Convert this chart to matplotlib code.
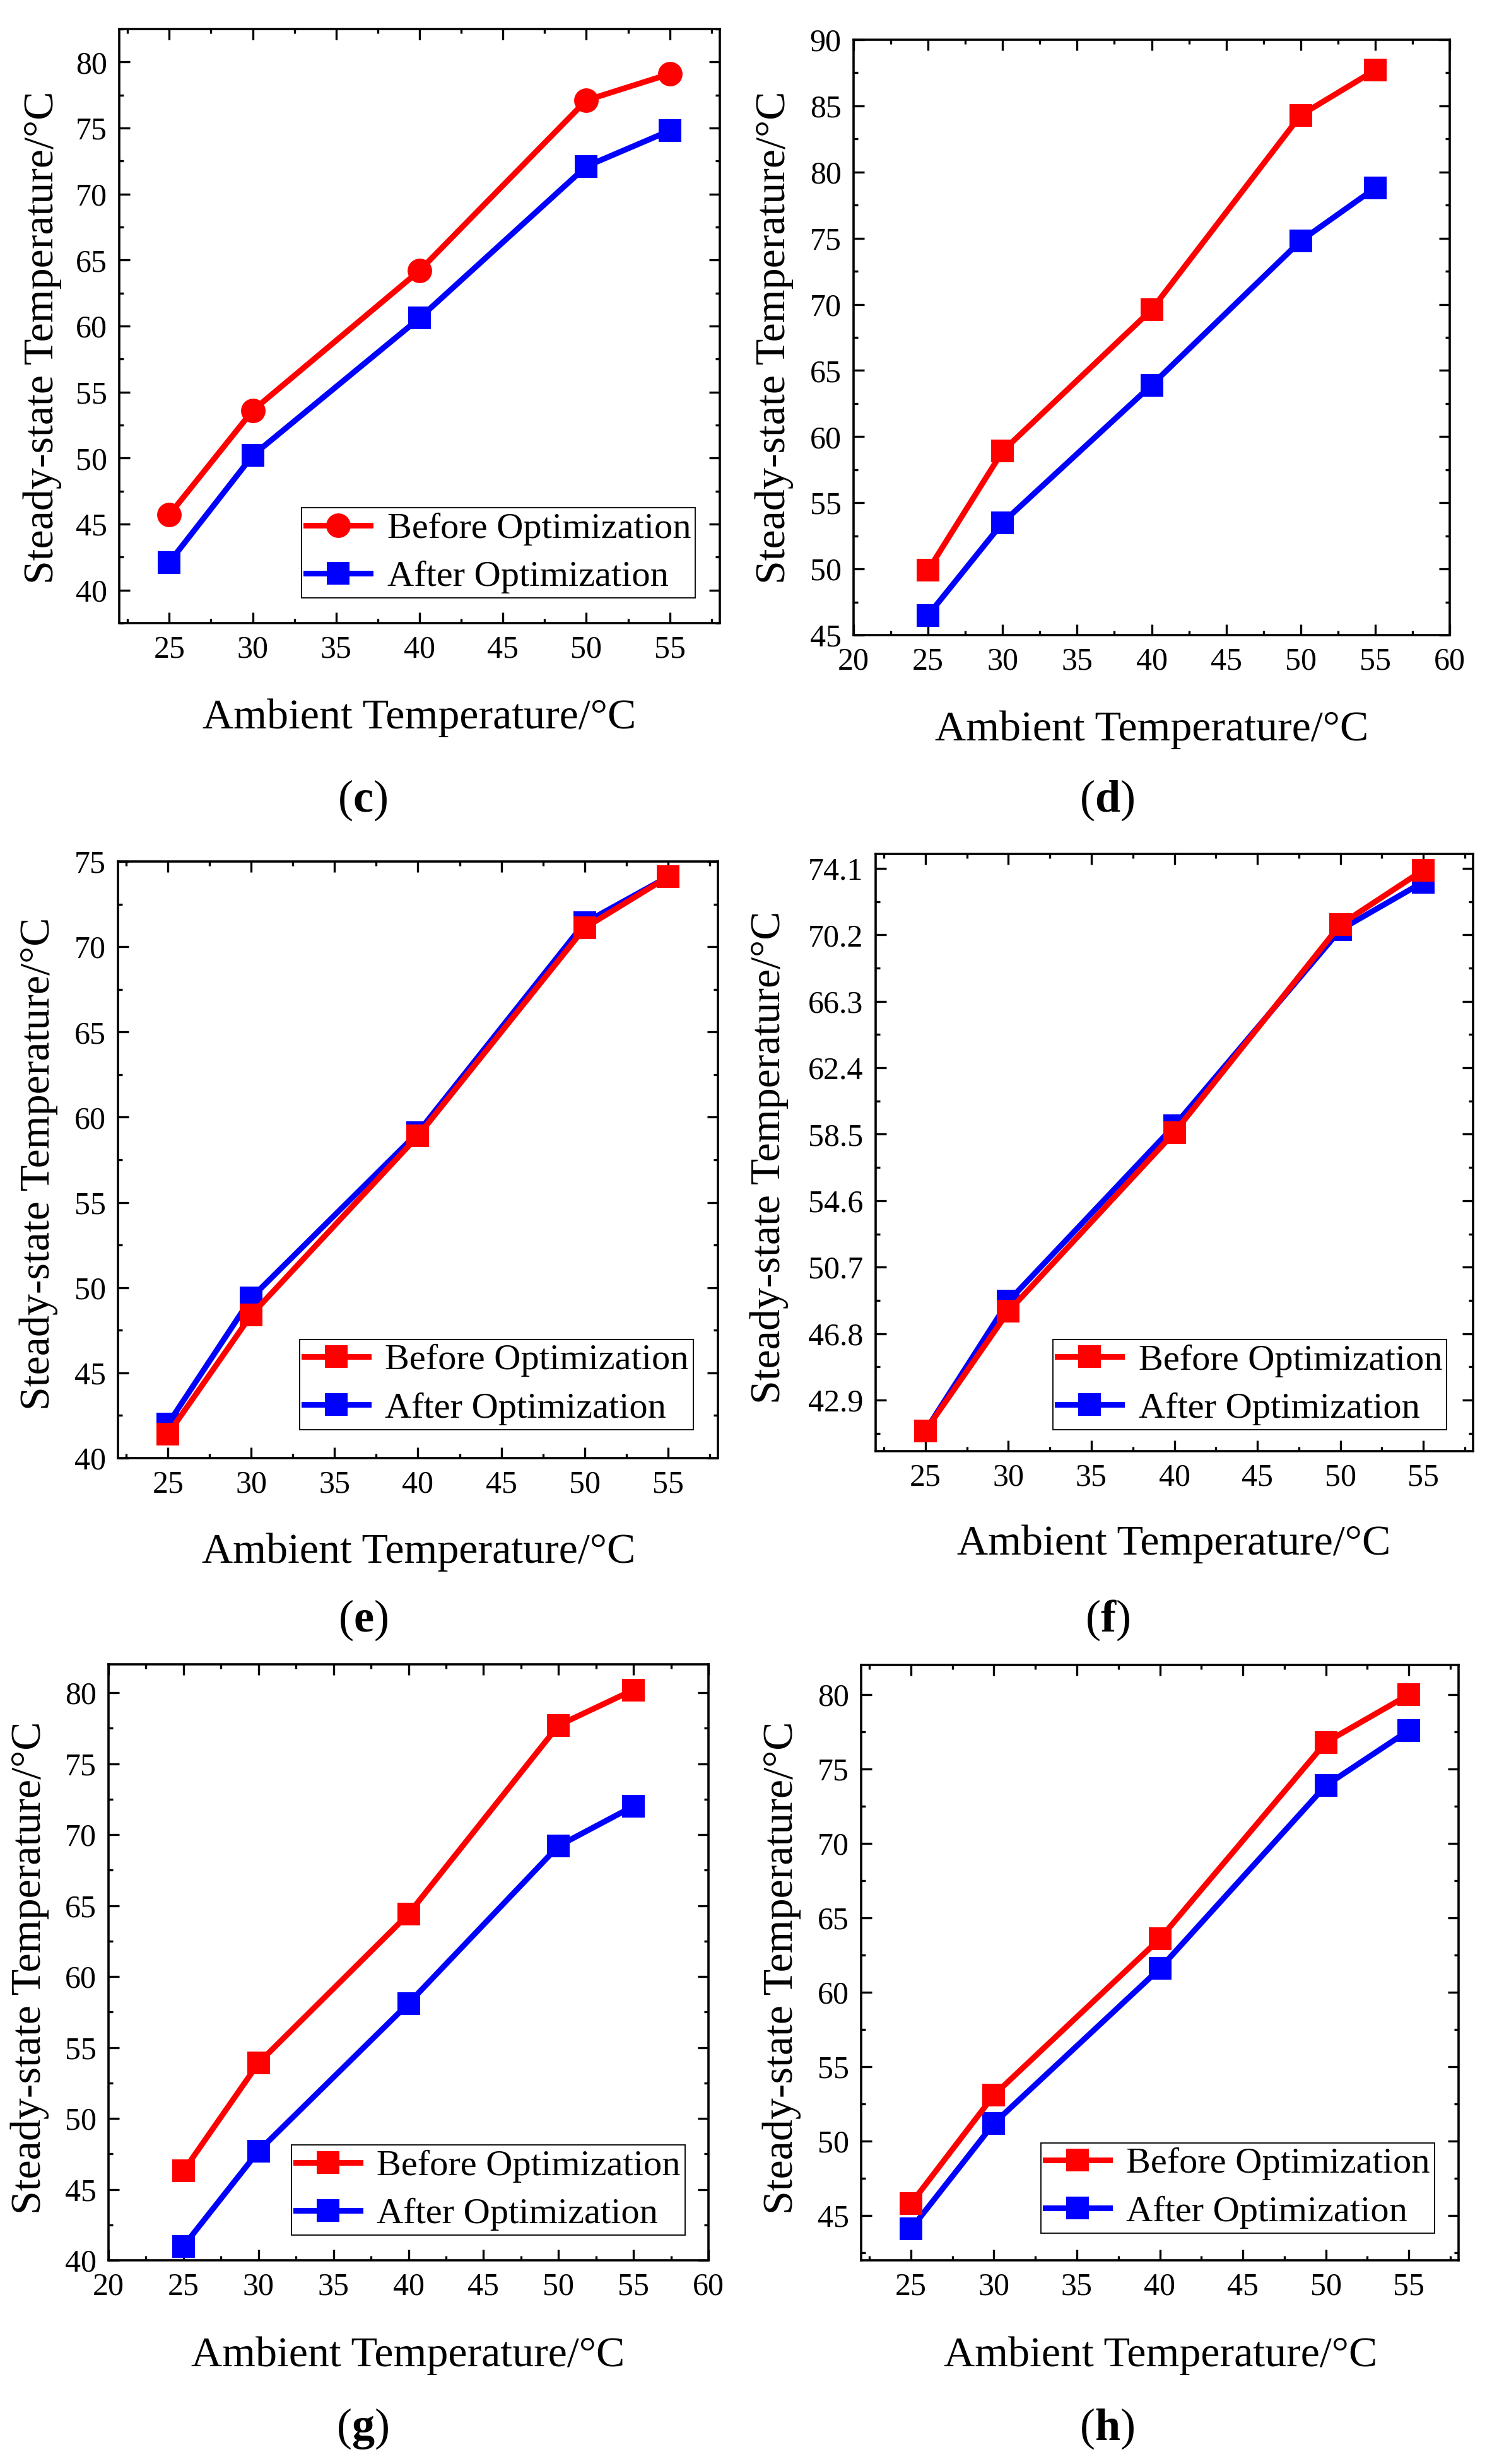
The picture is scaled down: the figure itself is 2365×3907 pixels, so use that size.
import matplotlib
matplotlib.use("Agg")
import matplotlib.pyplot as plt
from matplotlib.ticker import MultipleLocator, FixedLocator, FormatStrFormatter

plt.rcParams['font.family'] = ['Liberation Serif', 'DejaVu Serif']
plt.rcParams['mathtext.fontset'] = 'custom'
plt.rcParams['mathtext.rm'] = 'Liberation Serif'
plt.rcParams['mathtext.bf'] = 'Liberation Serif:bold'

# ---------------- data ----------------
ambient = [25, 30, 40, 50, 55]

c_before = [45.7, 53.6, 64.2, 77.1, 79.1]
c_after = [42.1, 50.2, 60.6, 72.1, 74.8]

d_before = [49.9, 58.9, 69.6, 84.3, 87.7]
d_after = [46.5, 53.5, 63.9, 74.8, 78.8]

e_before = [41.4, 48.4, 58.9, 71.1, 74.1]
e_after = [42.0, 49.4, 59.1, 71.4, 74.1]

f_before = [41.1, 48.1, 58.6, 70.8, 74.0]
f_after = [41.1, 48.7, 59.0, 70.5, 73.3]

g_before = [46.3, 53.9, 64.4, 77.7, 80.2]
g_after = [41.0, 47.7, 58.1, 69.2, 72.0]

h_before = [45.8, 53.1, 63.6, 76.8, 80.0]
h_after = [44.1, 51.2, 61.6, 73.9, 77.6]

f_yticks = [42.9, 46.8, 50.7, 54.6, 58.5, 62.4, 66.3, 70.2, 74.1]

xlabel_text = "Ambient Temperature/°C"
ylabel_text = "Steady-state Temperature/°C"
legend_labels = ["Before Optimization", "After Optimization"]

# ---------------- layout (pixels) ----------------
W, H = 2365, 3907
DPI = 100
fig = plt.figure(figsize=(W / DPI, H / DPI), dpi=DPI)

RED = '#FF0000'
BLUE = '#0000FF'

panels = [
    dict(name='c', before=c_before, after=c_after, bm='o', box=(189, 1141, 46, 988),
         xlim=(22, 58), xt=list(range(25, 60, 5)), ylim=(37.5, 82.5), yt=list(range(40, 85, 5)),
         ystep=2.5, leg=(0.304, 0.042), xl=(665, 1138), yl=(67, 535), pl=(575, 1269)),
    dict(name='d', before=d_before, after=d_after, bm='s', box=(1353, 2298, 63, 1007),
         xlim=(20, 60), xt=list(range(20, 65, 5)), ylim=(45, 90), yt=list(range(45, 95, 5)),
         ystep=2.5, leg=None, xl=(1826, 1157), yl=(1227, 535), pl=(1755, 1269)),
    dict(name='e', before=e_before, after=e_after, bm='s', box=(187, 1138, 1366, 2312),
         xlim=(22, 58), xt=list(range(25, 60, 5)), ylim=(40, 75), yt=list(range(40, 80, 5)),
         ystep=2.5, leg=(0.303, 0.048), xl=(664, 2461), yl=(61, 1845), pl=(576, 2569)),
    dict(name='f', before=f_before, after=f_after, bm='s', box=(1388, 2335, 1354, 2301),
         xlim=(22, 58), xt=list(range(25, 60, 5)), ylim=(39.9, 74.95), yt=f_yticks,
         ystep=1.95, leg=(0.297, 0.036), xl=(1861, 2448), yl=(1219, 1835), pl=(1755, 2569)),
    dict(name='g', before=g_before, after=g_after, bm='s', box=(172, 1123, 2639, 3584),
         xlim=(20, 60), xt=list(range(20, 65, 5)), ylim=(40, 82), yt=list(range(40, 85, 5)),
         ystep=2.5, leg=(0.305, 0.042), xl=(647, 3735), yl=(47, 3120), pl=(575, 3851)),
    dict(name='h', before=h_before, after=h_after, bm='s', box=(1365, 2312, 2640, 3584),
         xlim=(22, 58), xt=list(range(25, 60, 5)), ylim=(42, 82), yt=list(range(45, 85, 5)),
         ystep=2.5, leg=(0.301, 0.046), xl=(1840, 3735), yl=(1239, 3120), pl=(1755, 3851)),
]

TICK_FS = 36
LABEL_FS = 49
LEG_FS = 42
PANEL_FS = 52
LW = 6.5
MS = 26

for p in panels:
    l, r, t, b = p['box']
    ax = fig.add_axes([l / W, 1 - b / H, (r - l) / W, (b - t) / H])

    ms_b = MS + 2 if p['bm'] == 'o' else MS
    la, = ax.plot(ambient, p['after'], color=BLUE, lw=LW, marker='s', ms=MS,
                  markeredgewidth=0, zorder=3)
    lb, = ax.plot(ambient, p['before'], color=RED, lw=LW, marker=p['bm'], ms=ms_b,
                  markeredgewidth=0, zorder=4)

    ax.set_xlim(*p['xlim'])
    ax.set_ylim(*p['ylim'])
    ax.xaxis.set_major_locator(FixedLocator(p['xt']))
    ax.xaxis.set_minor_locator(MultipleLocator(2.5))
    ax.yaxis.set_major_locator(FixedLocator(p['yt']))
    if p['name'] == 'f':
        ax.yaxis.set_major_formatter(FormatStrFormatter('%.1f'))
        minors = [v + p['ystep'] for v in p['yt'][:-1]] + [p['yt'][0] - p['ystep'], p['yt'][-1] + p['ystep']]
        ax.yaxis.set_minor_locator(FixedLocator(minors))
    else:
        ax.yaxis.set_minor_locator(MultipleLocator(p['ystep']))

    ax.tick_params(which='both', direction='in', top=True, right=True, width=2.4,
                   labelsize=TICK_FS, colors='black')
    ax.tick_params(which='major', length=12)
    ax.tick_params(which='minor', length=5)
    ax.tick_params(axis='x', which='major', pad=14)
    ax.tick_params(axis='y', which='major', pad=14)
    for s in ax.spines.values():
        s.set_linewidth(2.6)

    def to_axes(px, py):
        return (px - l) / (r - l), (b - py) / (b - t)

    ax.set_xlabel(xlabel_text, fontsize=LABEL_FS)
    ax.xaxis.label.set_va('center')
    ax.xaxis.set_label_coords(*to_axes(*p['xl']))
    ax.set_ylabel(ylabel_text, fontsize=LABEL_FS)
    ax.yaxis.label.set_va('center')
    ax.yaxis.set_label_coords(*to_axes(*p['yl']))

    fig.text(p['pl'][0] / W, 1 - p['pl'][1] / H, r'($\mathbf{' + p['name'] + r'}$)',
             fontsize=PANEL_FS, ha='center', va='center')

    if p['leg'] is not None:
        leg = ax.legend([lb, la], legend_labels, loc='lower left', bbox_to_anchor=p['leg'],
                        borderaxespad=0, fontsize=LEG_FS, frameon=True, fancybox=False,
                        edgecolor='black', framealpha=1, borderpad=0.12,
                        handlelength=1.75, handletextpad=0.45, labelspacing=0.4)
        leg.get_frame().set_linewidth(1.3)
        leg.set_zorder(5)

fig.savefig('out.png', dpi=DPI, facecolor='white')
